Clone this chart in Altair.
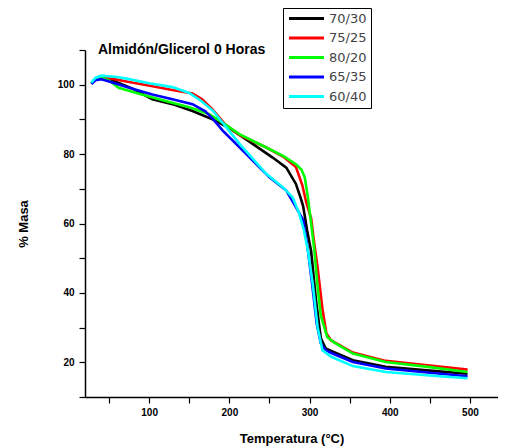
import altair as alt
import pandas as pd

series = ["70/30", "75/25", "80/20", "65/35", "60/40"]
colors = ["#000000", "#ff0000", "#00ff00", "#0000ff", "#00ffff"]

t_7030 = [28, 33, 40, 50, 65, 80, 104, 129, 154, 179, 200, 225, 254, 271, 283, 288, 292, 297, 302, 308, 314, 320, 330, 354, 395, 450, 497]
m_7030 = [100.3, 101.6, 102.2, 101.6, 100.2, 98.8, 95.8, 94.4, 92.4, 90.0, 87.5, 83.6, 79.0, 76.1, 71.4, 68.0, 65.0, 58.0, 52.0, 38.0, 27.0, 24.0, 23.0, 20.6, 18.7, 17.6, 16.7]

t_7525 = [28, 33, 40, 50, 75, 96, 129, 154, 166, 179, 195, 213, 246, 267, 283, 291, 296, 302, 306, 310, 316, 321, 327, 354, 395, 450, 497]
m_7525 = [100.4, 101.7, 102.3, 101.9, 100.8, 99.9, 98.5, 97.5, 95.8, 92.9, 88.5, 85.5, 81.9, 79.3, 76.3, 71.0, 66.0, 61.5, 54.0, 47.4, 35.5, 28.3, 26.3, 22.8, 20.4, 19.1, 17.9]

t_8020 = [28, 33, 40, 50, 62, 83, 100, 125, 150, 175, 190, 213, 246, 267, 283, 290, 294, 298, 302, 306, 310, 314, 322, 330, 354, 395, 450, 497]
m_8020 = [100.3, 101.6, 102.1, 101.2, 99.1, 97.7, 96.6, 95.0, 93.5, 91.5, 89.3, 85.7, 81.9, 79.5, 77.1, 75.5, 73.3, 67.5, 60.0, 52.2, 42.0, 33.5, 27.3, 25.8, 22.5, 20.1, 18.6, 17.2]

t_6535 = [28, 33, 40, 46, 75, 104, 129, 154, 170, 180, 192, 213, 250, 271, 283, 292, 297, 303, 309, 314, 320, 330, 354, 395, 450, 497]
m_6535 = [100.2, 101.3, 101.6, 101.2, 99.1, 97.2, 95.8, 94.4, 92.3, 90.0, 86.7, 81.9, 73.3, 69.5, 64.7, 61.0, 54.0, 43.0, 31.0, 25.5, 23.5, 22.4, 20.1, 18.2, 17.0, 16.0]

t_6040 = [28, 33, 40, 60, 75, 100, 129, 150, 165, 180, 213, 246, 267, 279, 287, 293, 298, 304, 310, 316, 327, 354, 395, 450, 497]
m_6040 = [100.6, 102.0, 102.6, 102.2, 101.6, 100.4, 99.3, 97.6, 95.3, 92.4, 82.9, 74.3, 70.4, 67.5, 63.0, 58.0, 52.2, 42.6, 30.2, 23.5, 21.6, 18.9, 17.2, 16.2, 15.4]

x_ticks = [50, 100, 150, 200, 250, 300, 350, 400, 450, 500]
y_ticks = [10, 20, 30, 40, 50, 60, 70, 80, 90, 100, 110]

rows = []
for name, ts, ms in [("70/30", t_7030, m_7030), ("75/25", t_7525, m_7525),
                     ("80/20", t_8020, m_8020), ("65/35", t_6535, m_6535),
                     ("60/40", t_6040, m_6040)]:
    for i, (t, m) in enumerate(zip(ts, ms)):
        rows.append({"serie": name, "T": t, "M": m, "i": i})
df = pd.DataFrame(rows)

FONT = "Liberation Sans"

axis_common = dict(
    grid=False,
    domainColor="#000000",
    domainWidth=1.5,
    tickColor="#000000",
    tickWidth=1.2,
    tickSize=6,
    labelFont=FONT,
    labelFontSize=10,
    labelFontWeight="bold",
    labelColor="#000000",
    titleFont=FONT,
    titleFontSize=13,
    titleFontWeight="bold",
    titleColor="#000000",
)

chart = alt.Chart(df).mark_line(strokeWidth=2.6).encode(
    x=alt.X("T:Q",
            scale=alt.Scale(domain=[20, 535], nice=False, zero=False),
            axis=alt.Axis(values=x_ticks,
                          labelExpr="datum.value % 100 == 0 ? datum.label : ''",
                          title="Temperatura (°C)", labelPadding=4, titlePadding=15,
                          **axis_common)),
    y=alt.Y("M:Q",
            scale=alt.Scale(domain=[10, 110], nice=False, zero=False),
            axis=alt.Axis(values=y_ticks,
                          labelExpr="(datum.value % 20 == 0 && datum.value >= 20 && datum.value <= 100) ? datum.label : ''",
                          title="% Masa", labelPadding=5, titlePadding=27,
                          **axis_common)),
    color=alt.Color("serie:N",
                    scale=alt.Scale(domain=series, range=colors),
                    legend=alt.Legend(title=None, orient="none", legendX=198, legendY=-42,
                                      symbolType="M-4,0H4", symbolSize=76.6,
                                      symbolStrokeWidth=3, symbolOffset=13,
                                      labelFont="DejaVu Sans",
                                      labelFontSize=13, labelColor="#444444",
                                      strokeColor="#000000", padding=4,
                                      rowPadding=5.5, labelOffset=16)),
    order="i:Q",
).properties(
    width=413,
    height=347,
    title=alt.TitleParams("Almidón/Glicerol 0 Horas", anchor="start", frame="group",
                          font=FONT, fontSize=14, fontWeight="bold", color="#000000",
                          offset=0, dx=13, dy=49, baseline="top"),
    autosize=alt.AutoSizeParams(type="none"),
    padding={"left": 77, "top": 42, "right": 0, "bottom": 50},
).configure(background="#ffffff").configure_view(stroke=None)

chart.save("out.html", embed_options={"renderer": "svg", "actions": False})
